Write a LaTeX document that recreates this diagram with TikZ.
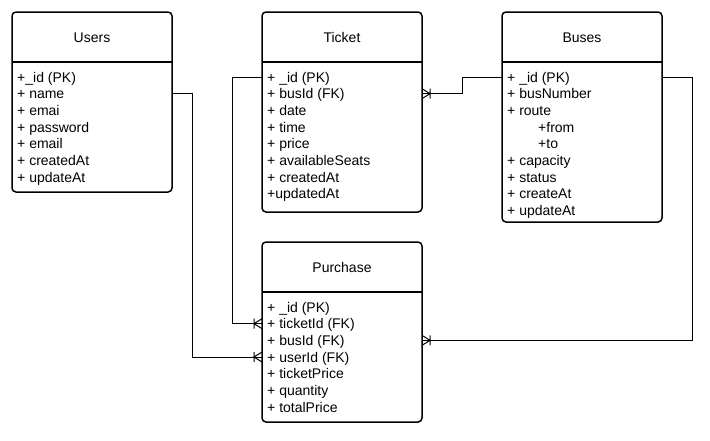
\documentclass[tikz,border=0pt]{standalone}
\usepackage{fontspec}
\setmainfont{Liberation Sans}
\usetikzlibrary{arrows.meta}
\pgfdeclarearrow{
  name = crowone,
  setup code = {
    \pgfarrowssettipend{0pt}
    \pgfarrowssetbackend{-9pt}
    \pgfarrowssetlineend{0pt}
    \pgfarrowshullpoint{0pt}{5pt}
    \pgfarrowshullpoint{0pt}{-5pt}
    \pgfarrowshullpoint{-9pt}{0pt}
  },
  drawing code = {
    \pgfsetdash{}{0pt}
    \pgfpathmoveto{\pgfpoint{0pt}{5pt}}
    \pgfpathlineto{\pgfpoint{-8pt}{0pt}}
    \pgfpathlineto{\pgfpoint{0pt}{-5pt}}
    \pgfpathmoveto{\pgfpoint{-8pt}{5pt}}
    \pgfpathlineto{\pgfpoint{-8pt}{-5pt}}
    \pgfusepathqstroke
  }
}
\begin{document}
\begin{tikzpicture}[x=1pt,y=-1pt,
  font=\fontsize{14}{17}\selectfont,
  entity/.style={draw, line width=1.5pt, rounded corners=4pt, anchor=north west,
    inner sep=0pt, outer sep=0pt},
  title/.style={inner sep=0pt, text height=10pt, text depth=0pt},
  field/.style={anchor=west, inner sep=0pt, text height=10pt, text depth=0pt},
  divider/.style={line width=1.3pt},
  link/.style={line width=1pt, -crowone}]
\useasboundingbox (0,0) rectangle (710,440);

% Users
\node[entity, minimum width=160, minimum height=180] (users) at (12,12) {};
\node[title] (usersT) at (92,37) {Users};
\draw[divider] (12,62) -- (172,62);
\foreach \t [count=\i] in {+\_id (PK), + name, + emai, + password, + email, + createdAt, + updateAt}
  \node[field] (u\i) at (17, {77+(\i-1)*16.67}) {\t};

% Ticket
\node[entity, minimum width=160, minimum height=200] (ticket) at (262,12) {};
\node[title] (ticketT) at (342,37) {Ticket};
\draw[divider] (262,62) -- (422,62);
\foreach \t [count=\i] in {+ \_id (PK), + busId (FK), + date, + time, + price, + availableSeats, + createdAt, +updatedAt}
  \node[field] (t\i) at (267, {77+(\i-1)*16.67}) {\t};

% Buses
\node[entity, minimum width=160, minimum height=210] (buses) at (502,12) {};
\node[title] (busesT) at (582,37) {Buses};
\draw[divider] (502,62) -- (662,62);
\foreach \xx/\t [count=\i] in {507/+ \_id (PK), 507/+ busNumber, 507/+ route, 538/+from, 538/+to, 507/+ capacity, 507/+ status, 507/+ createAt, 507/+ updateAt}
  \node[field] (b\i) at (\xx, {77+(\i-1)*16.67}) {\t};

% Purchase
\node[entity, minimum width=160, minimum height=180] (purchase) at (262,242) {};
\node[title] (purchaseT) at (342,267) {Purchase};
\draw[divider] (262,292) -- (422,292);
\foreach \t [count=\i] in {+ \_id (PK), + ticketId (FK), + busId (FK), + userId (FK), + ticketPrice, + quantity, + totalPrice}
  \node[field] (p\i) at (267, {307+(\i-1)*16.67}) {\t};

% Connectors
\draw[link] (users.east |- u2) -- ++(20,0) |- (purchase.west |- p4);
\draw[link] (ticket.west |- t1) -- ++(-30,0) |- (purchase.west |- p2);
\draw[link] (buses.west |- b1) -- ++(-40,0) |- (ticket.east |- t2);
\draw[link] (buses.east |- b1) -- ++(30,0) |- (purchase.east |- p3);
\end{tikzpicture}
\end{document}
